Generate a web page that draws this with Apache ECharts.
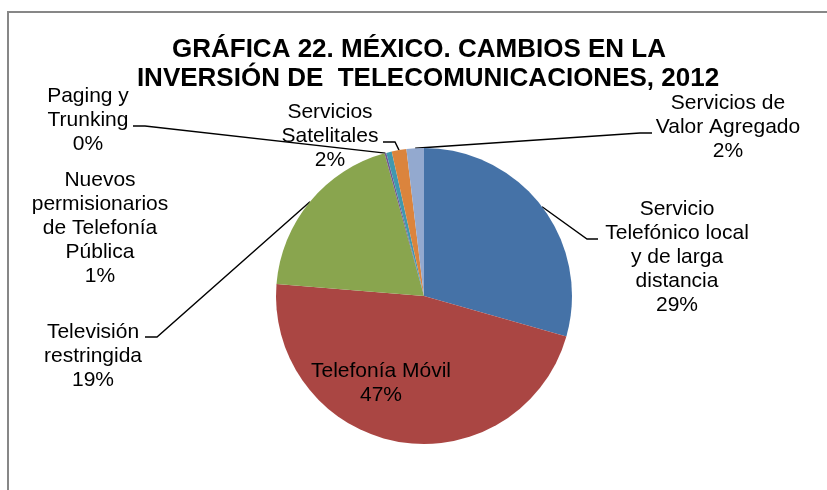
<!DOCTYPE html>
<html>
<head>
<meta charset="utf-8">
<script src="https://cdn.jsdelivr.net/npm/echarts@6/dist/echarts.min.js"></script>
<style>
  html, body { margin: 0; padding: 0; background: #ffffff; }
  #chart { width: 827px; height: 490px; }
</style>
</head>
<body>
<div id="chart"></div>
<script>
// Investment shares by segment (percent of total), clockwise from 12 o'clock
const categories = [
  'Servicio\nTelefónico local\ny de larga\ndistancia',
  'Telefonía Móvil',
  'Televisión\nrestringida',
  'Paging y\nTrunking',
  'Nuevos\npermisionarios\nde Telefonía\nPública',
  'Servicios\nSatelitales',
  'Servicios de\nValor Agregado'
];
const shares = [29.4, 46.9, 19.4, 0.2, 0.6, 1.6, 1.9];
const sliceColors = ['#4572A7', '#AA4643', '#89A54E', '#71588F', '#4198AF', '#DB843D', '#93A9CF'];

const titleLines = ['GRÁFICA 22. MÉXICO. CAMBIOS EN LA', 'INVERSIÓN DE  TELECOMUNICACIONES, 2012'];

// Label placement: centre of the text block, plus the elbow and end of the leader line
const labelPlacement = [
  { x: 677, y: 257, elbow: [587, 239], end: [598, 239] },
  { x: 381, y: 383 },
  { x: 93,  y: 356, elbow: [157, 337], end: [145, 337] },
  { x: 88,  y: 120, elbow: [145, 126], end: [133, 126] },
  { x: 100, y: 228 },
  { x: 330, y: 136, elbow: [395, 142], end: [383, 142] },
  { x: 728, y: 127, elbow: [640, 133], end: [652, 133] }
];

const FONT = '"Liberation Sans", Arial, sans-serif';

const pieData = categories.map((name, i) => {
  const item = { name: name, value: shares[i], itemStyle: { color: sliceColors[i] } };
  if (i === 1) {
    item.label = { position: 'inside' };
    item.labelLine = { show: false };
  }
  if (i === 4) {
    item.labelLine = { show: false };
  }
  return item;
});

const chart = echarts.init(document.getElementById('chart'), null, { renderer: 'canvas' });

chart.setOption({
  animation: false,
  backgroundColor: '#ffffff',
  title: [
    {
      text: titleLines[0],
      left: 414, top: 32, textAlign: 'center',
      textStyle: { fontFamily: FONT, fontWeight: 'bold', fontSize: 26, color: '#000000' }
    },
    {
      text: titleLines[1],
      left: 423, top: 61, textAlign: 'center',
      textStyle: { fontFamily: FONT, fontWeight: 'bold', fontSize: 26, color: '#000000' }
    }
  ],
  graphic: [
    {
      type: 'rect', silent: true, z: -1,
      shape: { x: 8, y: 12, width: 830, height: 500 },
      style: { fill: 'none', stroke: '#878787', lineWidth: 2 }
    }
  ],
  series: [
    {
      type: 'pie',
      center: [424, 296],
      radius: 148,
      startAngle: 90,
      clockwise: true,
      percentPrecision: 0,
      avoidLabelOverlap: false,
      itemStyle: { borderWidth: 0 },
      emphasis: { disabled: true },
      label: {
        show: true,
        position: 'outside',
        formatter: '{b}\n{d}%',
        fontFamily: FONT,
        fontSize: 21,
        lineHeight: 24,
        color: '#000000',
        align: 'center'
      },
      labelLine: {
        show: true,
        smooth: false,
        length: 10,
        length2: 10,
        lineStyle: { color: '#000000', width: 1.4 }
      },
      labelLayout: function (params) {
        const p = labelPlacement[params.dataIndex];
        const out = { x: p.x, y: p.y, align: 'center', verticalAlign: 'middle' };
        if (p.elbow && params.labelLinePoints && params.labelLinePoints.length) {
          out.labelLinePoints = [params.labelLinePoints[0], p.elbow, p.end];
        }
        return out;
      },
      data: pieData
    }
  ]
});
</script>
</body>
</html>
